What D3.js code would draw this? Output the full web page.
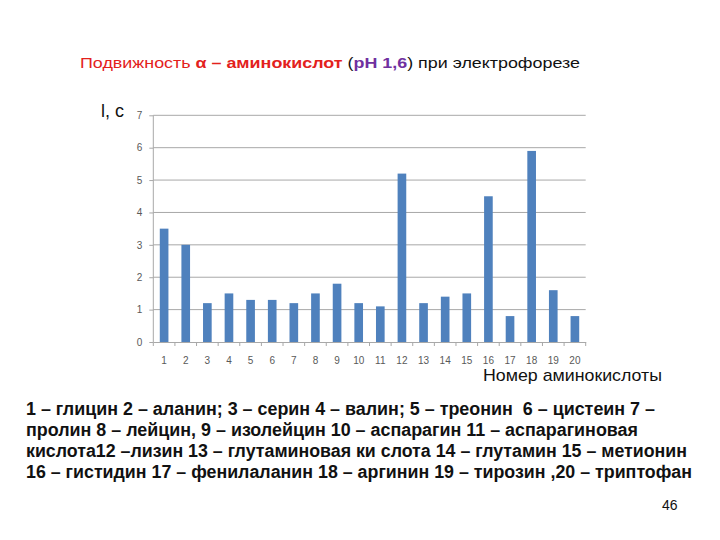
<!DOCTYPE html>
<html><head><meta charset="utf-8">
<script src="https://cdn.jsdelivr.net/npm/d3@7"></script>
<style>body{margin:0;background:#fff}svg{display:block}</style>
</head><body>
<script>
const categories = ["1","2","3","4","5","6","7","8","9","10","11","12","13","14","15","16","17","18","19","20"];
const values = [3.5,3.0,1.2,1.5,1.3,1.3,1.2,1.5,1.8,1.2,1.1,5.2,1.2,1.4,1.5,4.5,0.8,5.9,1.6,0.8];
const yTicks = [0,1,2,3,4,5,6,7];
const legendLines = [
 "1 – глицин 2 – аланин; 3 – серин 4 – валин; 5 – треонин  6 – цистеин 7 –",
 "пролин 8 – лейцин, 9 – изолейцин 10 – аспарагин 11 – аспарагиновая",
 "кислота12 –лизин 13 – глутаминовая ки слота 14 – глутамин 15 – метионин",
 "16 – гистидин 17 – фенилаланин 18 – аргинин 19 – тирозин ,20 – триптофан"
];
const legendWidths = [629, 612, 661, 666];

const svg = d3.select("body").append("svg").attr("width",720).attr("height",540);
const x = d3.scaleBand().domain(categories).range([153.3,585.7]).paddingInner(0.6).paddingOuter(0.3);
const y = d3.scaleLinear().domain([0,7]).range([342,115.3]);

// gridlines
svg.append("g").selectAll("line").data(yTicks.filter(d=>d>0)).join("line")
  .attr("x1",153.3).attr("x2",585.7).attr("y1",d=>y(d)).attr("y2",d=>y(d))
  .attr("stroke","#a8a8a8").attr("stroke-width",1);
// y axis line
svg.append("line").attr("x1",153.3).attr("x2",153.3).attr("y1",y(7)).attr("y2",y(0)).attr("stroke","#a8a8a8");

// bars
svg.append("g").selectAll("rect").data(values).join("rect")
  .attr("x",(d,i)=>x(categories[i])).attr("width",x.bandwidth())
  .attr("y",d=>y(d)).attr("height",d=>y(0)-y(d)).attr("fill","#4f81bd");

// x axis
const xAxis = d3.axisBottom(x).tickSize(0).tickPadding(15);
const gx = svg.append("g").attr("transform","translate(0,342)").call(xAxis);
gx.select(".domain").attr("stroke","#a8a8a8");
gx.selectAll("text").attr("font-family","Liberation Sans, Arial, sans-serif").attr("font-size",10).attr("fill","#595959");
// boundary tick marks
const bounds = d3.range(categories.length+1).map(i=>153.3 + i*x.step());
svg.append("g").selectAll("line").data(bounds).join("line")
  .attr("x1",d=>d).attr("x2",d=>d).attr("y1",342).attr("y2",346).attr("stroke","#a8a8a8");

// y axis
const yAxis = d3.axisLeft(y).tickValues(yTicks).tickFormat(d3.format("d")).tickSize(4).tickPadding(7);
const gy = svg.append("g").attr("transform","translate(153.3,0)").call(yAxis);
gy.select(".domain").remove();
gy.selectAll("line").attr("stroke","#a8a8a8");
gy.selectAll("text").attr("font-family","Liberation Sans, Arial, sans-serif").attr("font-size",10).attr("fill","#595959");

// title
const t = svg.append("text").attr("x",80).attr("y",68).attr("font-family","Liberation Sans, Arial, sans-serif").attr("font-size",15.5)
  .attr("textLength",500).attr("lengthAdjust","spacingAndGlyphs");
t.append("tspan").attr("fill","#e3211c").text("Подвижность ");
t.append("tspan").attr("fill","#e3211c").attr("font-weight","bold").text("α – аминокислот");
t.append("tspan").attr("fill","#111").text(" (");
t.append("tspan").attr("fill","#7030a0").attr("font-weight","bold").text("pH 1,6");
t.append("tspan").attr("fill","#111").text(") при электрофорезе");

svg.append("text").attr("x",101).attr("y",117).attr("font-family","Liberation Sans, Arial, sans-serif")
  .attr("font-size",18).attr("fill","#111").text("l, c");

svg.append("text").attr("x",662).attr("y",381).attr("text-anchor","end").attr("font-family","Liberation Sans Narrow, Liberation Sans, Arial, sans-serif")
  .attr("font-size",17).attr("fill","#111").attr("textLength",179).attr("lengthAdjust","spacingAndGlyphs").text("Номер аминокислоты");

svg.append("g").selectAll("text").data(legendLines).join("text")
  .attr("x",26).attr("y",(d,i)=>415+i*21).attr("font-family","Liberation Sans, Arial, sans-serif")
  .attr("font-size",17.5).attr("font-weight","bold").attr("fill","#111")
  .attr("textLength",(d,i)=>legendWidths[i]).attr("lengthAdjust","spacingAndGlyphs")
  .style("white-space","pre").text(d=>d);

svg.append("text").attr("x",662).attr("y",510).attr("font-family","Liberation Sans, Arial, sans-serif")
  .attr("font-size",14).attr("fill","#111").text("46");
</script>
</body></html>
